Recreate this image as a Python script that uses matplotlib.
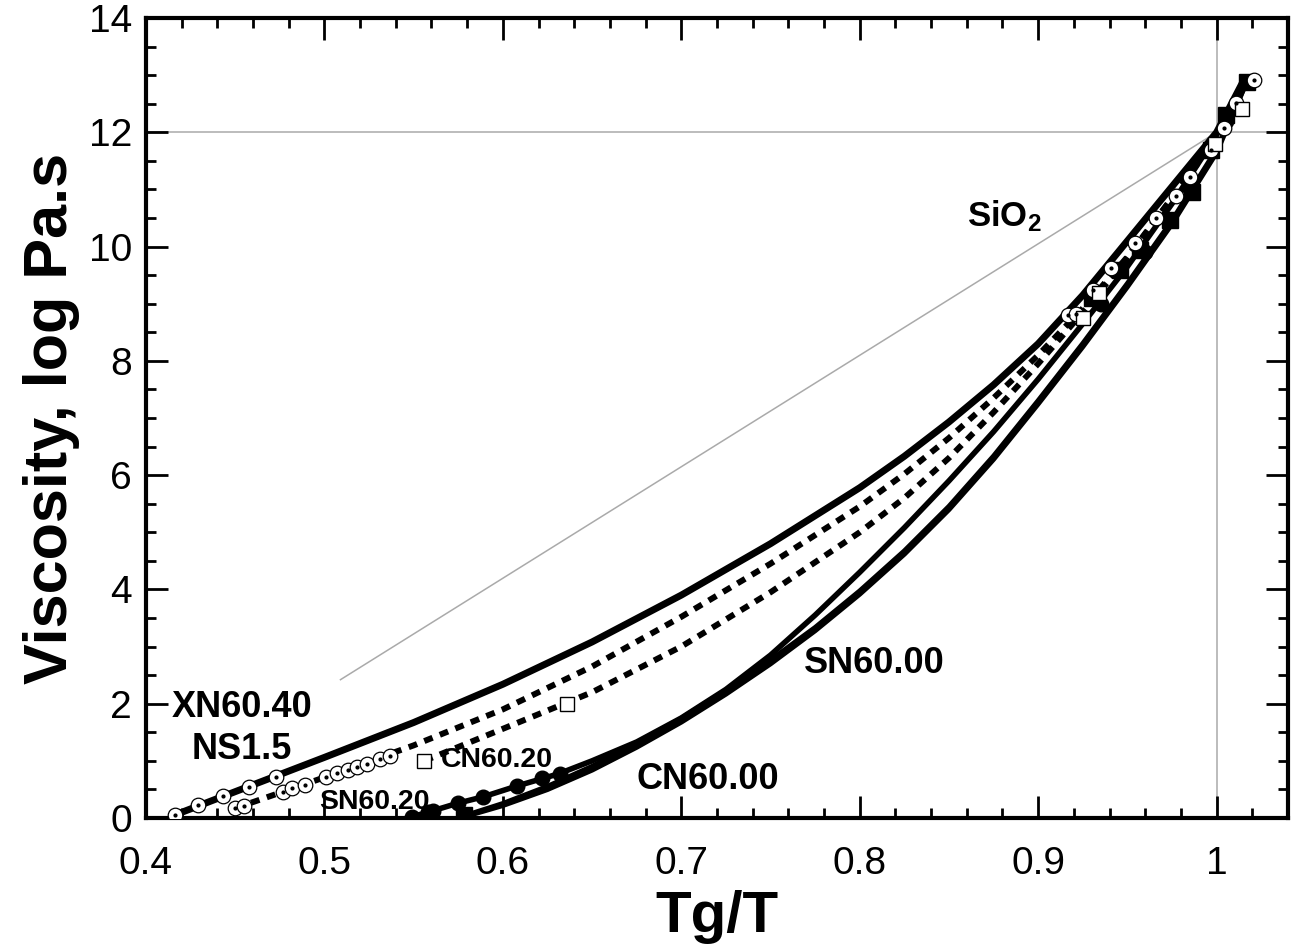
import matplotlib
matplotlib.use("Agg")
import matplotlib.pyplot as plt
from matplotlib.ticker import MultipleLocator

plt.rcParams['font.family'] = ['Liberation Sans', 'DejaVu Sans']
plt.rcParams['mathtext.default'] = 'regular'

# fitted curves (Tg/T, log viscosity)
xn6040_x = [0.416, 0.45, 0.50, 0.55, 0.60, 0.65, 0.70, 0.75, 0.80, 0.825, 0.85, 0.875,
            0.90, 0.925, 0.95, 0.975, 1.0, 1.015]
xn6040_y = [0.05, 0.46, 1.06, 1.67, 2.34, 3.08, 3.90, 4.80, 5.78, 6.33, 6.93, 7.58,
            8.30, 9.15, 10.10, 11.05, 12.0, 12.9]

ns15_x = [0.450, 0.50, 0.55, 0.60, 0.65, 0.70, 0.75, 0.80, 0.825, 0.85, 0.875,
          0.90, 0.925, 0.95, 0.975, 1.0, 1.013]
ns15_y = [0.17, 0.71, 1.27, 1.90, 2.65, 3.52, 4.45, 5.45, 6.02, 6.65, 7.35,
          8.10, 8.92, 9.82, 10.85, 11.95, 12.6]

cn6020_x = [0.556, 0.60, 0.65, 0.70, 0.75, 0.80, 0.825, 0.85, 0.875, 0.90, 0.925,
            0.95, 0.975, 1.0, 1.012]
cn6020_y = [1.0, 1.56, 2.20, 3.00, 3.95, 5.00, 5.60, 6.30, 7.10, 7.95, 8.85,
            9.80, 10.85, 11.9, 12.5]

sn6020_x = [0.549, 0.558, 0.575, 0.589, 0.608, 0.631, 0.65, 0.675, 0.70, 0.725, 0.75,
            0.775, 0.80, 0.825, 0.85, 0.875, 0.90, 0.925, 0.95, 0.975, 1.0, 1.015]
sn6020_y = [0.02, 0.10, 0.26, 0.37, 0.56, 0.77, 1.00, 1.33, 1.75, 2.25, 2.85,
            3.55, 4.30, 5.08, 5.90, 6.76, 7.68, 8.65, 9.65, 10.75, 11.95, 12.85]

cn6000_x = [0.578, 0.60, 0.625, 0.65, 0.675, 0.70, 0.725, 0.75, 0.775, 0.80, 0.825,
            0.85, 0.875, 0.90, 0.925, 0.95, 0.975, 1.0, 1.017]
cn6000_y = [0.02, 0.22, 0.50, 0.84, 1.24, 1.68, 2.17, 2.70, 3.28, 3.92, 4.62,
            5.40, 6.28, 7.25, 8.25, 9.30, 10.40, 11.65, 12.9]

sn6000_x = [0.577, 0.60, 0.625, 0.65, 0.675, 0.70, 0.725, 0.75, 0.775, 0.80, 0.825,
            0.85, 0.875, 0.90, 0.925, 0.95, 0.975, 1.0, 1.017]
sn6000_y = [0.02, 0.25, 0.55, 0.90, 1.30, 1.74, 2.23, 2.76, 3.33, 3.97, 4.67,
            5.45, 6.33, 7.30, 8.30, 9.35, 10.45, 11.70, 12.9]

sio2_x = [0.509, 1.0]
sio2_y = [2.42, 12.0]

# measured points
xn6040_px = [0.416, 0.429, 0.443, 0.458, 0.473, 0.9165, 0.941, 0.966, 0.985, 1.004, 1.021]
xn6040_py = [0.05, 0.23, 0.39, 0.54, 0.72, 8.80, 9.63, 10.5, 11.22, 12.08, 12.92]

ns15_px = [0.450, 0.455, 0.477, 0.482, 0.489, 0.501, 0.507, 0.513, 0.518, 0.524, 0.531, 0.537,
           0.921, 0.931, 0.954, 0.977, 0.997, 1.011]
ns15_py = [0.17, 0.21, 0.46, 0.52, 0.58, 0.72, 0.79, 0.84, 0.89, 0.95, 1.03, 1.09,
           8.82, 9.24, 10.06, 10.89, 11.69, 12.51]

cn6020_px = [0.556, 0.636, 0.925, 0.934, 0.999, 1.014]
cn6020_py = [1.0, 2.0, 8.75, 9.19, 11.8, 12.4]

sn6020_px = [0.549, 0.558, 0.561, 0.575, 0.589, 0.608, 0.622, 0.632, 0.935, 0.96, 0.985, 1.005]
sn6020_py = [0.02, 0.10, 0.12, 0.26, 0.37, 0.56, 0.70, 0.77, 9.0, 9.9, 11.0, 12.2]

cn6000_px = [0.578, 0.930, 0.946, 0.957, 0.974, 0.986, 0.997, 1.005, 1.017]
cn6000_py = [0.05, 9.10, 9.59, 9.94, 10.47, 10.96, 11.69, 12.3, 12.88]

labels = ['XN60.40', 'NS1.5', 'CN60.20', 'SN60.20', 'CN60.00', 'SN60.00']
label_x = [0.4538, 0.4538, 0.5966, 0.528, 0.7148, 0.8084]
label_y = [1.94, 1.19, 1.01, 0.28, 0.68, 2.71]
label_size = [26, 26, 20.5, 20.5, 26, 26]

fig = plt.figure(figsize=(13.01, 9.5), dpi=100)
ax = fig.add_axes([0.1122, 0.139, 0.8778, 0.842])

# reference lines
ax.axhline(12, color='#aaaaaa', lw=1.1, zorder=1)
ax.axvline(1.0, color='#aaaaaa', lw=1.1, zorder=1)
ax.plot(sio2_x, sio2_y, color='#aaaaaa', lw=1.1, zorder=1)

# curves
ax.plot(xn6040_x, xn6040_y, color='black', lw=5, zorder=3)
ax.plot(ns15_x, ns15_y, color='black', lw=4.3, ls=(0, (1.5, 1.3)), zorder=3)
ax.plot(cn6020_x, cn6020_y, color='black', lw=4.3, ls=(0, (1.5, 1.3)), zorder=3)
ax.plot(sn6020_x, sn6020_y, color='black', lw=4, zorder=3)
ax.plot(cn6000_x, cn6000_y, color='black', lw=3.8, zorder=3)
ax.plot(sn6000_x, sn6000_y, color='black', lw=3.8, zorder=3)

# markers
for px, py in [(xn6040_px, xn6040_py), (ns15_px, ns15_py)]:
    ax.plot(px, py, 'o', ms=10.5, mfc='white', mec='black', mew=0.9, ls='none', zorder=5)
    ax.plot(px, py, 'o', ms=2, color='black', ls='none', zorder=6)
ax.plot(cn6020_px, cn6020_py, 's', ms=10.5, mfc='white', mec='black', mew=1, ls='none', zorder=5)
ax.plot(sn6020_px, sn6020_py, 'o', ms=10.5, color='black', ls='none', zorder=4)
ax.plot(cn6000_px, cn6000_py, 's', ms=11.5, color='black', ls='none', zorder=4)

# labels
for t, x, y, s in zip(labels, label_x, label_y, label_size):
    ax.text(x, y, t, fontsize=s, fontweight='bold', ha='center', va='center', zorder=7)
ax.text(0.86, 10.36, 'SiO$_2$', fontsize=25, fontweight='bold', ha='left', va='baseline')

ax.set_xlim(0.4, 1.04)
ax.set_ylim(0, 14)
ax.xaxis.set_minor_locator(MultipleLocator(0.02))
ax.yaxis.set_major_locator(MultipleLocator(2))
ax.yaxis.set_minor_locator(MultipleLocator(0.5))
ax.set_xticks([0.4, 0.5, 0.6, 0.7, 0.8, 0.9, 1.0])
ax.set_xticklabels(['0.4', '0.5', '0.6', '0.7', '0.8', '0.9', '1'])

ax.tick_params(which='both', direction='in', top=True, right=True, width=2, labelsize=28)
ax.tick_params(which='major', length=16)
ax.tick_params(axis='x', which='major', pad=20)
ax.tick_params(axis='y', which='major', pad=10)
ax.tick_params(which='minor', length=7)
for sp in ax.spines.values():
    sp.set_linewidth(3)

ax.set_xlabel('Tg/T', fontsize=42, fontweight='bold', labelpad=6)
ax.set_ylabel('Viscosity, log Pa.s', fontsize=44, fontweight='bold', labelpad=6)

fig.savefig('out.png', dpi=100)
